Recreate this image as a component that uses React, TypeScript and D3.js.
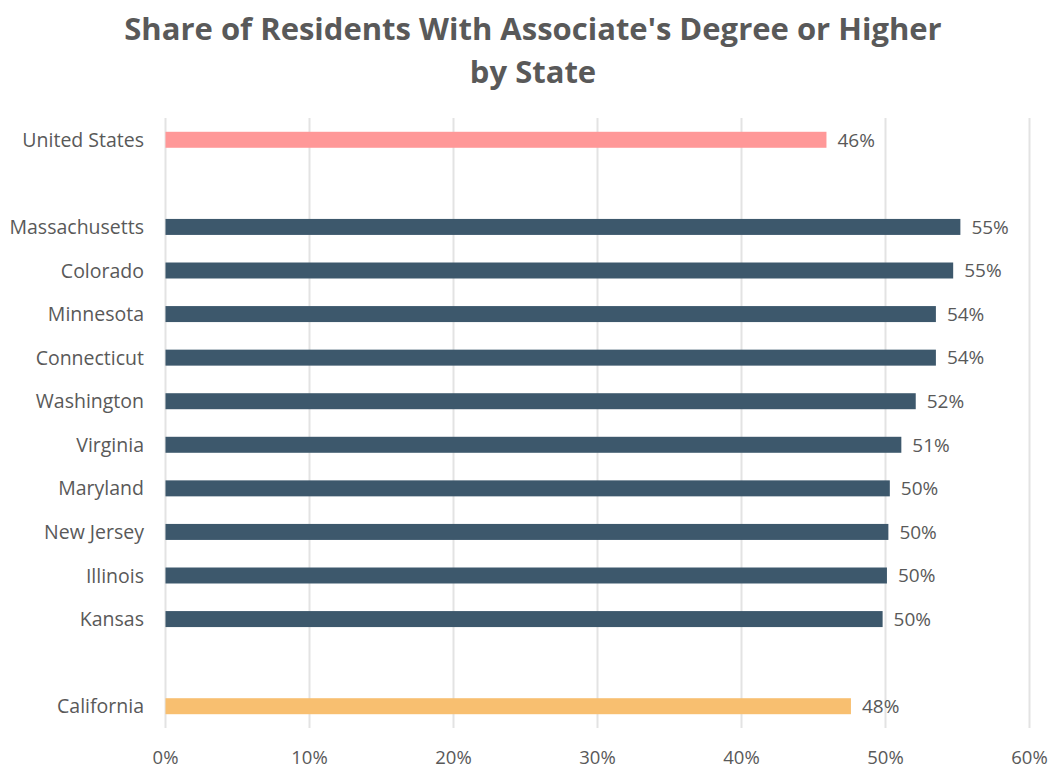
import React from "react";
import * as d3 from "d3";

const titleLines = ["Share of Residents With Associate's Degree or Higher", "by State"];
const categories = [
  "United States", "", "Massachusetts", "Colorado", "Minnesota", "Connecticut",
  "Washington", "Virginia", "Maryland", "New Jersey", "Illinois", "Kansas", " ", "California",
];
const values: (number | null)[] = [
  45.9, null, 55.2, 54.7, 53.5, 53.5, 52.1, 51.1, 50.3, 50.2, 50.1, 49.8, null, 47.6,
];
const xTicks = [0, 10, 20, 30, 40, 50, 60];

const W = 1053;
const H = 768;
const FONT = "Open Sans, Calibri, Carlito, sans-serif";
const TEXT = "#595959";

function barColor(cat: string) {
  if (cat === "United States") return "#FF9898";
  if (cat === "California") return "#F8BF70";
  return "#3D586C";
}

export default function App() {
  const x = d3.scaleLinear().domain([0, 60]).range([165.5, 1029.5]);
  const keys = categories.map((c, i) => `${i}`);
  const y = d3.scaleBand<string>().domain(keys).range([118, 728]).paddingInner(0.633).paddingOuter(0.3165);
  const bw = y.bandwidth();
  const fmt = (v: number) => `${Math.round(v)}%`;

  return (
    <svg width={W} height={H} style={{ position: "absolute", left: 0, top: 0, background: "#fff" }} fontFamily={FONT}>
      <rect width={W} height={H} fill="#fff" />
      {titleLines.map((t, i) => (
        <text key={i} x={533} y={40 + i * 43} textAnchor="middle" fontSize={31} fontWeight={700} fill={TEXT}>
          {t}
        </text>
      ))}
      {xTicks.map((t) => (
        <g key={t}>
          <line x1={x(t)} x2={x(t)} y1={118} y2={728} stroke="#E3E3E3" strokeWidth={2} />
          <text x={x(t)} y={764} textAnchor="middle" fontSize={18.5} fill={TEXT}>
            {t}%
          </text>
        </g>
      ))}
      {categories.map((c, i) => {
        const v = values[i];
        if (v == null) return null;
        const yy = y(keys[i])!;
        const cy = yy + bw / 2;
        return (
          <g key={i}>
            <rect x={x(0)} y={yy} width={x(v) - x(0)} height={bw} fill={barColor(c)} />
            <text x={144} y={cy} dy="0.36em" textAnchor="end" fontSize={19.5} fill={TEXT}>
              {c}
            </text>
            <text x={x(v) + 11} y={cy} dy="0.36em" fontSize={19} fill={TEXT}>
              {fmt(v)}
            </text>
          </g>
        );
      })}
    </svg>
  );
}
